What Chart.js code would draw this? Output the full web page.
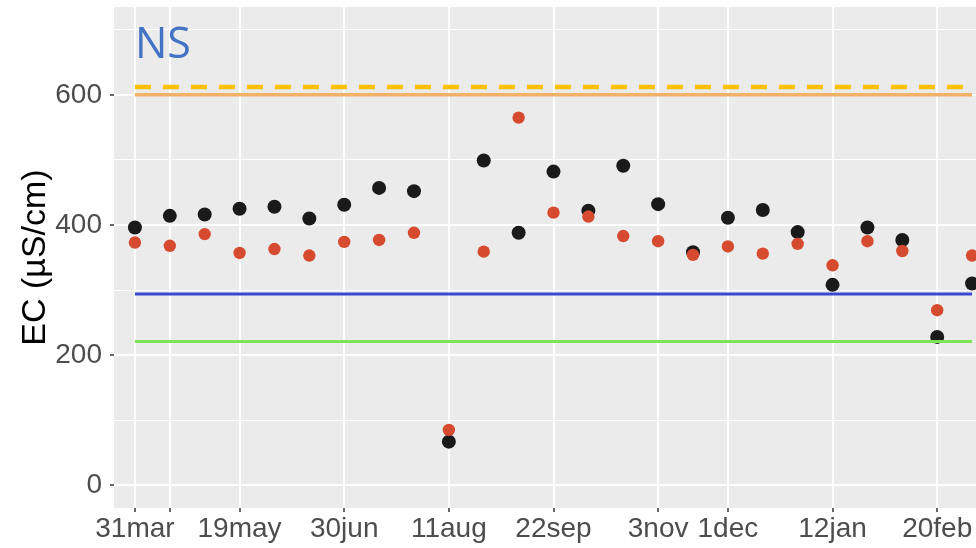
<!DOCTYPE html>
<html>
<head>
<meta charset="utf-8">
<script src="https://cdn.jsdelivr.net/npm/chart.js@4"></script>
<style>
  html, body { margin: 0; padding: 0; background: #ffffff; overflow: hidden; }
  #wrap { width: 976px; height: 548px; overflow: hidden; position: relative; }
  canvas { display: block; }
</style>
</head>
<body>
<div id="wrap"><canvas id="chart" width="1000" height="548"></canvas></div>
<script>
// Sampling campaigns in order; only some of them carry a date label on the axis
const sampleLabels = ['31mar', '', '', '19may', '', '', '30jun', '', '', '11aug', '', '',
                      '22sep', '', '', '3nov', '', '1dec', '', '', '12jan', '', '', '20feb', ''];
// Positions that get a tick and a vertical grid line
const breakIdx = [0, 1, 3, 6, 9, 12, 15, 17, 20, 23];

// Electrical conductivity (µS/cm) per campaign
const ecDark = [396, 414, 416, 425, 428, 410, 431, 457, 452, 67, 499, 388, 482,
                422, 491, 432, 358, 411, 423, 389, 308, 396, 377, 228, 310];
const ecRed  = [373, 368, 386, 357, 363, 353, 374, 377, 388, 85, 359, 565, 419,
                413, 383, 375, 354, 367, 356, 371, 338, 375, 360, 269, 353];

// Reference thresholds (µS/cm)
const limitDashed = 612;
const limitOrange = 600;
const limitBlue = 294;
const limitGreen = 221;

const yTicks = [0, 100, 200, 300, 400, 500, 600, 700];

const toPoints = arr => arr.map((v, i) => ({ x: i, y: v }));
const hLine = v => [{ x: 0, y: v }, { x: sampleLabels.length - 1, y: v }];

const panelBackground = {
  id: 'panelBackground',
  beforeDraw(chart) {
    const { ctx, chartArea: a } = chart;
    ctx.save();
    ctx.fillStyle = '#EBEBEB';
    ctx.fillRect(a.left, a.top, a.right - a.left, a.bottom - a.top);
    ctx.restore();
  }
};

const panelTag = {
  id: 'panelTag',
  afterDraw(chart) {
    const { ctx } = chart;
    const x = chart.scales.x.getPixelForValue(0);
    ctx.save();
    ctx.fillStyle = '#4472C4';
    ctx.font = '43px "Liberation Sans Narrow", "Open Sans", sans-serif';
    ctx.textAlign = 'left';
    ctx.textBaseline = 'alphabetic';
    ctx.fillText('NS', x, 58);
    ctx.restore();
  }
};

const tickFont = { family: '"Liberation Sans", Arial, sans-serif', size: 28 };

new Chart(document.getElementById('chart'), {
  type: 'scatter',
  data: {
    datasets: [
      { label: 'limit dashed', data: hLine(limitDashed), showLine: true, pointRadius: 0,
        borderColor: '#FFC000', borderWidth: 4.5, borderDash: [16, 12], order: 1 },
      { label: 'limit orange', data: hLine(limitOrange), showLine: true, pointRadius: 0,
        borderColor: '#F2B266', borderWidth: 3.5, order: 1 },
      { label: 'limit blue', data: hLine(limitBlue), showLine: true, pointRadius: 0,
        borderColor: '#3B47D1', borderWidth: 3, order: 1 },
      { label: 'limit green', data: hLine(limitGreen), showLine: true, pointRadius: 0,
        borderColor: '#7FE35A', borderWidth: 3, order: 1 },
      { label: 'EC red', data: toPoints(ecRed), pointRadius: 6.2, pointBorderWidth: 0,
        backgroundColor: '#D64B2F', borderColor: '#D64B2F', order: 2 },
      { label: 'EC dark', data: toPoints(ecDark), pointRadius: 7, pointBorderWidth: 0,
        backgroundColor: '#1A1A1A', borderColor: '#1A1A1A', order: 3 }
    ]
  },
  options: {
    responsive: false,
    animation: false,
    events: [],
    layout: { padding: { top: 4, right: 6, left: 0, bottom: 0 } },
    plugins: { legend: { display: false }, tooltip: { enabled: false } },
    scales: {
      x: {
        type: 'linear',
        min: -0.6,
        max: sampleLabels.length - 1 + 0.6,
        afterBuildTicks: s => { s.ticks = breakIdx.map(v => ({ value: v })); },
        afterFit: s => { s.height = 40; s.paddingLeft = 0; s.paddingRight = 0; },
        border: { display: false },
        grid: { color: '#FFFFFF', lineWidth: 2, tickLength: 4, tickColor: '#333333', tickWidth: 1.5 },
        ticks: {
          autoSkip: false, maxRotation: 0, padding: 0,
          color: '#4D4D4D', font: tickFont,
          callback: v => sampleLabels[v] || ''
        }
      },
      y: {
        type: 'linear',
        min: -35,
        max: 735,
        afterBuildTicks: s => { s.ticks = yTicks.map(v => ({ value: v })); },
        afterFit: s => { s.width = 114; s.paddingTop = 0; s.paddingBottom = 0; },
        border: { display: false },
        grid: {
          color: '#FFFFFF',
          lineWidth: c => (c.tick && c.tick.value % 200 === 0) ? 2 : 1,
          tickLength: 4,
          tickWidth: 1.5,
          tickColor: c => (c.tick && c.tick.value % 200 === 0) ? '#333333' : 'rgba(0,0,0,0)'
        },
        ticks: {
          padding: 8, color: '#4D4D4D', font: tickFont,
          callback: v => (v % 200 === 0) ? String(v) : ''
        },
        title: {
          display: true,
          text: 'EC (µS/cm)',
          color: '#000000',
          font: { family: '"Liberation Sans", Arial, sans-serif', size: 34 },
          padding: { top: 15, bottom: 0 }
        }
      }
    }
  },
  plugins: [panelBackground, panelTag]
});
</script>
</body>
</html>
